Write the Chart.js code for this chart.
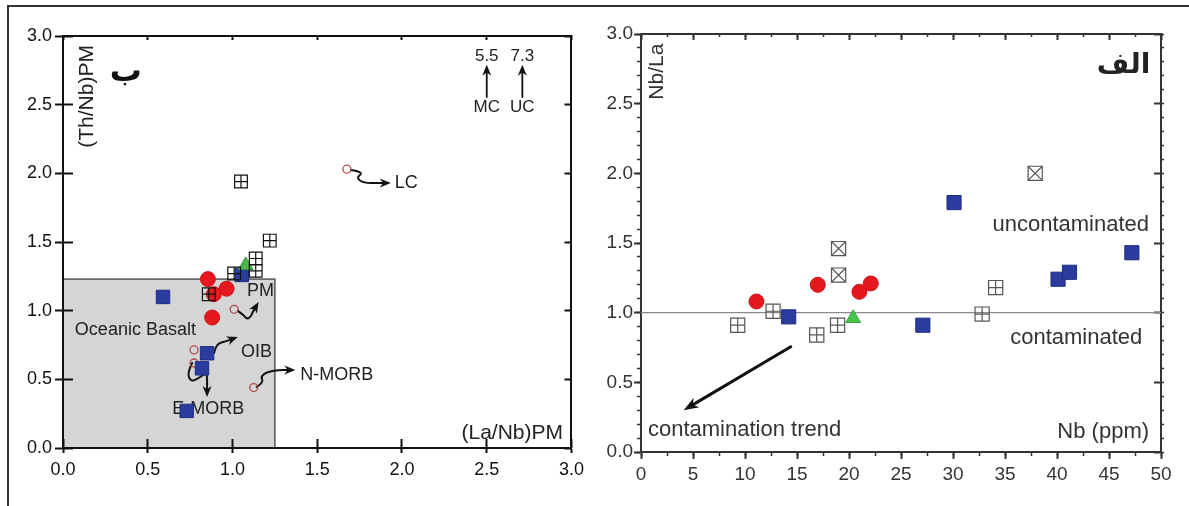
<!DOCTYPE html>
<html>
<head>
<meta charset="utf-8">
<script src="https://cdn.jsdelivr.net/npm/chart.js@4.4.0/dist/chart.umd.min.js"></script>
<style>
  body { margin: 0; background: #fff; }
  #wrap { position: relative; width: 1189px; height: 506px; overflow: hidden; background: #fff; }
  #frame { position: absolute; left: 7px; top: 5px; width: 1200px; height: 520px;
           border-top: 2px solid #333; border-left: 2px solid #333; }
  #c1 { position: absolute; left: 0; top: 0; }
  #c2 { position: absolute; left: 590px; top: 0; }
</style>
</head>
<body>
<div id="wrap">
  <div id="frame"></div>
  <canvas id="c1" width="590" height="506"></canvas>
  <canvas id="c2" width="599" height="506"></canvas>
</div>
<script>
// ---- panel "ب" : (La/Nb)PM vs (Th/Nb)PM ----
var bRangeX = [0, 3], bRangeY = [0, 3];
var bBlue  = [[0.59,1.10],[1.055,1.26],[0.85,0.69],[0.82,0.58],[0.73,0.27]];
var bRed   = [[0.855,1.23],[0.965,1.16],[0.89,1.12],[0.88,0.95]];
var bGreen = [[1.078,1.33]];
var bPlus  = [[1.05,1.94],[1.22,1.51],[1.137,1.38],[1.137,1.29],[1.01,1.27],[0.86,1.12]];
var bRef   = [[1.675,2.03],[1.01,1.01],[0.773,0.714],[0.773,0.619],[1.125,0.44]];
var bField = [[0,0],[1.25,1.23]];          // Oceanic Basalt box
var bArrows = [
  [[2.50,2.556],[2.50,2.79]],               // MC
  [[2.71,2.556],[2.71,2.79]],               // UC
  [[1.699,2.024],[1.775,2.010],[1.729,1.966],[1.775,1.930],[1.857,1.930],[1.934,1.930]], // LC
  [[1.031,0.998],[1.066,0.968],[1.084,0.939],[1.107,0.954],[1.119,0.990],[1.154,1.063]], // PM
  [[0.891,0.692],[0.902,0.757],[0.967,0.779],[1.031,0.808]],                             // OIB
  [[0.762,0.619],[0.732,0.546],[0.756,0.481],[0.803,0.51],[0.85,0.553],[0.85,0.45],[0.85,0.371]], // E-MORB
  [[1.143,0.444],[1.184,0.481],[1.166,0.517],[1.201,0.553],[1.271,0.568],[1.371,0.568]]  // N-MORB
];
var bLabels = [
  ['Oceanic Basalt', 0.07, 0.86, 'left', 18],
  ['PM', 1.085, 1.146, 'left', 18],
  ['OIB', 1.05, 0.70, 'left', 18],
  ['N-MORB', 1.40, 0.53, 'left', 18],
  ['E-MORB', 0.645, 0.285, 'left', 18],
  ['LC', 1.957, 1.93, 'left', 18],
  ['(La/Nb)PM', 2.95, 0.11, 'right', 21],
  ['5.5', 2.50, 2.85, 'center', 17],
  ['7.3', 2.71, 2.85, 'center', 17],
  ['MC', 2.50, 2.48, 'center', 17],
  ['UC', 2.71, 2.48, 'center', 17]
];

// ---- panel "الف" : Nb (ppm) vs Nb/La ----
var aRangeX = [0, 50], aRangeY = [0, 3];
var aBlue  = [[14.2,0.97],[27.1,0.91],[30.1,1.79],[40.1,1.24],[41.2,1.29],[47.2,1.43]];
var aRed   = [[11.1,1.08],[17.0,1.20],[21.0,1.15],[22.1,1.21]];
var aGreen = [[20.4,0.96]];
var aPlus  = [[9.3,0.91],[12.7,1.01],[16.9,0.84],[18.9,0.91],[32.8,0.99],[34.1,1.18]];
var aCross = [[19.0,1.46],[19.0,1.27],[37.9,2.0]];
var aLine  = [[0,1],[50,1]];
var aTrend = [[14.4,0.755],[4.1,0.30]];
var aLabels = [
  ['uncontaminated', 48.85, 1.63, 'right', 22],
  ['contaminated', 48.2, 0.82, 'right', 22],
  ['contamination trend', 0.67, 0.158, 'left', 22],
  ['Nb (ppm)', 48.85, 0.144, 'right', 22]
];

var FONT = 'Arial, "Liberation Sans", sans-serif';

function pts(arr) { return arr.map(function (p) { return {x: p[0], y: p[1]}; }); }

function toPx(chart, p) {
  return [chart.scales.x.getPixelForValue(p[0]), chart.scales.y.getPixelForValue(p[1])];
}

function drawArrow(ctx, p, lw, hl, hw) {
  var n = p.length, tip = p[n - 1], prev = p[n - 2];
  var ang = Math.atan2(tip[1] - prev[1], tip[0] - prev[0]);
  var end = [tip[0] - Math.cos(ang) * hl * 0.6, tip[1] - Math.sin(ang) * hl * 0.6];
  var q = p.slice(0, n - 1).concat([end]);
  ctx.save();
  ctx.strokeStyle = '#111'; ctx.fillStyle = '#111';
  ctx.lineWidth = lw; ctx.lineJoin = 'round'; ctx.lineCap = 'round';
  ctx.beginPath();
  ctx.moveTo(q[0][0], q[0][1]);
  for (var i = 1; i < q.length - 1; i++) {
    var mx = (q[i][0] + q[i + 1][0]) / 2, my = (q[i][1] + q[i + 1][1]) / 2;
    ctx.quadraticCurveTo(q[i][0], q[i][1], mx, my);
  }
  ctx.lineTo(end[0], end[1]);
  ctx.stroke();
  ctx.translate(tip[0], tip[1]);
  ctx.rotate(ang);
  ctx.beginPath();
  ctx.moveTo(0, 0);
  ctx.lineTo(-hl, -hw / 2);
  ctx.lineTo(-hl * 0.7, 0);
  ctx.lineTo(-hl, hw / 2);
  ctx.closePath();
  ctx.fill();
  ctx.restore();
}

function drawLabels(chart, list, color) {
  var ctx = chart.ctx;
  ctx.save();
  ctx.fillStyle = color;
  ctx.textBaseline = 'middle';
  list.forEach(function (l) {
    var p = toPx(chart, [l[1], l[2]]);
    ctx.font = l[4] + 'px ' + FONT;
    ctx.textAlign = l[3];
    ctx.fillText(l[0], p[0], p[1]);
  });
  ctx.restore();
}

function drawText(chart, txt, x, y, font, color, rot) {
  var ctx = chart.ctx, p = toPx(chart, [x, y]);
  ctx.save();
  ctx.fillStyle = color; ctx.font = font;
  ctx.textAlign = 'center'; ctx.textBaseline = 'middle';
  ctx.translate(p[0], p[1]);
  if (rot) ctx.rotate(rot);
  ctx.fillText(txt, 0, 0);
  ctx.restore();
}

// tick-only axis (no labels), used for inner / minor ticks and the top/right frame
function tickAxis(pos, range, step, len, color, w, border) {
  return {
    type: 'linear', position: pos, min: range[0], max: range[1], weight: 0,
    ticks: {display: false, stepSize: step, autoSkip: false},
    grid: {drawOnChartArea: false, tickLength: len, tickWidth: w, tickColor: color},
    border: border ? {display: true, color: color, width: 2} : {display: false},
    afterFit: function (s) { if (s.isHorizontal()) s.height = 0; else s.width = 0; }
  };
}

function labelAxis(pos, range, step, len, color, size, dec, fitSize, pad) {
  return {
    type: 'linear', position: pos, min: range[0], max: range[1], weight: 1,
    ticks: {stepSize: step, autoSkip: false, maxRotation: 0, color: color, padding: pad,
            font: {family: FONT, size: size},
            callback: function (v) { return v.toFixed(dec); }},
    grid: {drawOnChartArea: false, tickLength: len, tickWidth: 2, tickColor: color},
    border: {display: true, color: color, width: 2},
    afterFit: function (s) { if (s.isHorizontal()) s.height = fitSize; else s.width = fitSize; }
  };
}

var rectBox = function (data, color, r) {
  return {data: pts(data), pointStyle: 'rect', pointRadius: r, borderWidth: 1.2,
          borderColor: color, backgroundColor: 'rgba(0,0,0,0)', order: 0};
};

// ---------------- left chart ----------------
new Chart(document.getElementById('c1'), {
  type: 'scatter',
  data: {
    datasets: [
      rectBox(bPlus, '#111', 9),
      {data: pts(bPlus), pointStyle: 'cross', pointRadius: 6.3, borderWidth: 1.2, borderColor: '#111', order: 0},
      {data: pts(bGreen), pointStyle: 'triangle', pointRadius: 8.5, backgroundColor: '#4cb848', borderColor: '#3a9a38', borderWidth: 1, order: 1},
      {data: pts(bBlue), pointStyle: 'rect', pointRadius: 9.5, backgroundColor: '#2a3c9e', borderColor: '#1f2e80', borderWidth: 1, order: 2},
      {data: pts(bRed), pointStyle: 'circle', pointRadius: 7.5, backgroundColor: '#e4181d', borderColor: '#cc1519', borderWidth: 1, order: 3},
      {data: pts(bRef), pointStyle: 'circle', pointRadius: 4, backgroundColor: 'rgba(0,0,0,0)', borderColor: '#b04a48', borderWidth: 1.3, order: 4}
    ]
  },
  options: {
    responsive: false, animation: false, devicePixelRatio: 1,
    layout: {padding: {top: 36, right: 15, left: 0, bottom: 0}},
    plugins: {legend: {display: false}, tooltip: {enabled: false}},
    scales: {
      x: labelAxis('bottom', bRangeX, 0.5, 5, '#111', 18, 1, 58, 6),
      xIn: tickAxis('bottom', bRangeX, 0.5, -9, '#111', 2, false),
      y: labelAxis('left', bRangeY, 0.5, 8, '#111', 18, 1, 63, 3),
      yIn: tickAxis('left', bRangeY, 0.5, -10, '#111', 2, false),
      xT: tickAxis('top', bRangeX, 0.5, -4, '#111', 2, true),
      yR: tickAxis('right', bRangeY, 0.5, -7, '#111', 2, true)
    }
  },
  plugins: [{
    id: 'leftAnn',
    beforeDraw: function (chart) {
      var ctx = chart.ctx;
      var a = toPx(chart, bField[0]), b = toPx(chart, bField[1]);
      ctx.save();
      ctx.fillStyle = '#d5d5d5';
      ctx.fillRect(a[0], b[1], b[0] - a[0], a[1] - b[1]);
      ctx.strokeStyle = '#555'; ctx.lineWidth = 1.5;
      ctx.strokeRect(a[0], b[1], b[0] - a[0], a[1] - b[1]);
      ctx.restore();
    },
    beforeDatasetsDraw: function (chart) {
      drawLabels(chart, bLabels, '#222');
      bArrows.forEach(function (ar, i) {
        var p = ar.map(function (q) { return toPx(chart, q); });
        drawArrow(chart.ctx, p, i < 2 ? 1.8 : 2, 11, 9);
      });
      drawText(chart, '(Th/Nb)PM', 0.14, 2.56, '21px ' + FONT, '#222', -Math.PI / 2);
      drawText(chart, 'ب', 0.37, 2.73, 'bold 32px "DejaVu Sans"', '#111', 0);
    }
  }]
});

// ---------------- right chart ----------------
new Chart(document.getElementById('c2'), {
  type: 'scatter',
  data: {
    datasets: [
      {data: pts(aGreen), pointStyle: 'triangle', pointRadius: 8.5, backgroundColor: '#4cc34a', borderColor: '#3aa338', borderWidth: 1, order: 0},
      {data: pts(aBlue), pointStyle: 'rect', pointRadius: 10, backgroundColor: '#2a3c9e', borderColor: '#1f2e80', borderWidth: 1, order: 1},
      {data: pts(aRed), pointStyle: 'circle', pointRadius: 7.5, backgroundColor: '#e4181d', borderColor: '#cc1519', borderWidth: 1, order: 2},
      Object.assign(rectBox(aPlus, '#555', 10), {order: 3}),
      {data: pts(aPlus), pointStyle: 'cross', pointRadius: 7, borderWidth: 1.2, borderColor: '#555', order: 3},
      Object.assign(rectBox(aCross, '#555', 10), {order: 3}),
      {data: pts(aCross), pointStyle: 'crossRot', pointRadius: 10, borderWidth: 1.2, borderColor: '#555', order: 3},
      {data: pts(aLine), showLine: true, pointRadius: 0, borderColor: '#8a8a8a', borderWidth: 1.3, order: 5}
    ]
  },
  options: {
    responsive: false, animation: false, devicePixelRatio: 1,
    layout: {padding: {top: 34, right: 28, left: 0, bottom: 0}},
    plugins: {legend: {display: false}, tooltip: {enabled: false}},
    scales: {
      x: labelAxis('bottom', aRangeX, 5, 7, '#333', 19, 0, 54, 4),
      xMin: tickAxis('bottom', aRangeX, 2.5, 4, '#333', 1.5, false),
      y: labelAxis('left', aRangeY, 0.5, 7, '#333', 19, 1, 51, 1),
      yMin: tickAxis('left', aRangeY, 0.1, 4, '#333', 1.5, false),
      xT: tickAxis('top', aRangeX, 5, -6, '#333', 2, true),
      xTMin: tickAxis('top', aRangeX, 2.5, -3, '#333', 1.5, false),
      yR: tickAxis('right', aRangeY, 0.5, -7, '#333', 2, true),
      yRMin: tickAxis('right', aRangeY, 0.1, 3, '#333', 1.5, false)
    }
  },
  plugins: [{
    id: 'rightAnn',
    beforeDatasetsDraw: function (chart) {
      drawLabels(chart, aLabels, '#333');
      var p = aTrend.map(function (q) { return toPx(chart, q); });
      drawArrow(chart.ctx, p, 3, 15, 11);
      drawText(chart, 'Nb/La', 1.54, 2.73, '21px ' + FONT, '#333', -Math.PI / 2);
      drawText(chart, 'الف', 46.4, 2.77, 'bold 28px "DejaVu Sans"', '#222', 0);
    }
  }]
});
</script>
</body>
</html>
